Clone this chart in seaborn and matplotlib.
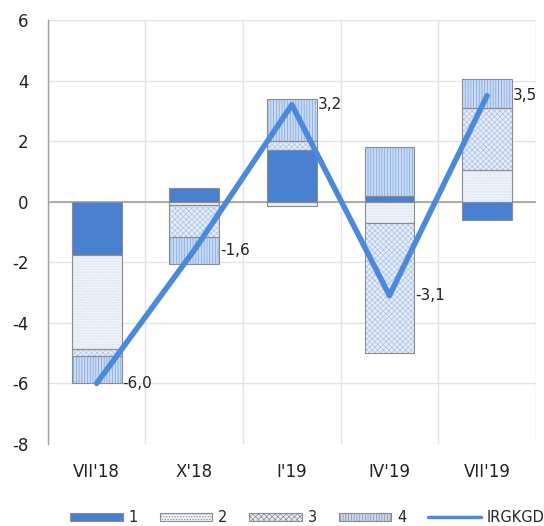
import numpy as np
import pandas as pd
import seaborn as sns
from matplotlib import pyplot as plt
from matplotlib.patches import Patch
from matplotlib.lines import Line2D

periods = ["VII'18", "X'18", "I'19", "IV'19", "VII'19"]
s1 = [-1.75, 0.45, 1.70, 0.20, -0.60]
s2 = [-3.10, -0.10, -0.15, -0.70, 1.05]
s3 = [-0.25, -1.05, 0.30, -4.30, 2.05]
s4 = [-0.90, -0.90, 1.40, 1.60, 0.95]
irgkgd = [-6.0, -1.6, 3.2, -3.1, 3.5]
irgkgd_labels = ["-6,0", "-1,6", "3,2", "-3,1", "3,5"]
series_names = ["1", "2", "3", "4"]

sns.set_theme(style="white")
plt.rcParams['font.family'] = ['DejaVu Sans']
plt.rcParams['axes.unicode_minus'] = False
plt.rcParams['hatch.linewidth'] = 0.5

faces = ["#4A80D0", "#EDF2FA", "#E6EDF8", "#C9DAF3"]
hatch_cols = ["#4A80D0", "#D3DEF0", "#A9C1E6", "#7CA4DE"]
hatches = [None, "......", "xxxxxx", "||||||"]
line_col = "#4C8AD9"
edge_col = "#8C8C8C"

fig = plt.figure(figsize=(5.44, 5.26), dpi=100)
ax = fig.add_axes([0.088, 0.156, 0.897, 0.806])

x = np.arange(len(periods))
pos_base = np.zeros(len(periods))
neg_base = np.zeros(len(periods))
width = 0.51
for vals, fc, hc, h in zip([s1, s2, s3, s4], faces, hatch_cols, hatches):
    vals = np.array(vals)
    bottoms = np.where(vals >= 0, pos_base, neg_base)
    ax.bar(x, vals, width, bottom=bottoms, color=fc, edgecolor=hc, hatch=h,
           linewidth=0, zorder=2)
    ax.bar(x, vals, width, bottom=bottoms, fill=False, edgecolor=edge_col,
           linewidth=0.8, zorder=3)
    pos_base += np.where(vals >= 0, vals, 0)
    neg_base += np.where(vals < 0, vals, 0)

df = pd.DataFrame({"x": x, "IRGKGD": irgkgd})
sns.lineplot(data=df, x="x", y="IRGKGD", color=line_col, linewidth=4,
             ax=ax, zorder=4, solid_capstyle='round')

for i, (v, lab) in enumerate(zip(irgkgd, irgkgd_labels)):
    ax.text(i + 0.265, v, lab, ha='left', va='center', fontsize=11, color='#222222')

ax.set_xlim(-0.5, 4.5)
ax.set_ylim(-8, 6)
ax.set_yticks(range(-8, 7, 2))
ax.set_xticks(x)
ax.set_xticklabels(periods)
ax.tick_params(axis='both', labelsize=12, length=0, colors='#222222')
ax.tick_params(axis='x', pad=14)
ax.tick_params(axis='y', pad=14)
ax.set_xlabel("")
ax.set_ylabel("")

for yv in range(-8, 7, 2):
    ax.axhline(yv, color='#E3E3E3', linewidth=1, zorder=0)
for xv in np.arange(-0.5, 5, 1):
    ax.axvline(xv, color='#E3E3E3', linewidth=1, zorder=0)
ax.axhline(0, color='#A0A0A0', linewidth=1.2, zorder=1)

for s in ['top', 'right', 'bottom']:
    ax.spines[s].set_visible(False)
ax.spines['left'].set_color('#A0A0A0')
ax.spines['left'].set_linewidth(1)

handles = []
for name, fc, hc, h in zip(series_names, faces, hatch_cols, hatches):
    handles.append(Patch(facecolor=fc, edgecolor=hc, hatch=h, linewidth=0.8, label=name))
handles.append(Line2D([0], [0], color=line_col, linewidth=2.5, label="IRGKGD"))
leg = fig.legend(handles=handles, loc='center', bbox_to_anchor=(0.565, 0.016), ncol=5,
                 frameon=False, fontsize=10.5, handlelength=3.6, handleheight=0.55,
                 columnspacing=1.5, handletextpad=0.4)
for p in leg.get_patches():
    p.set_edgecolor(edge_col)

fig.savefig("out.png", dpi=100)
